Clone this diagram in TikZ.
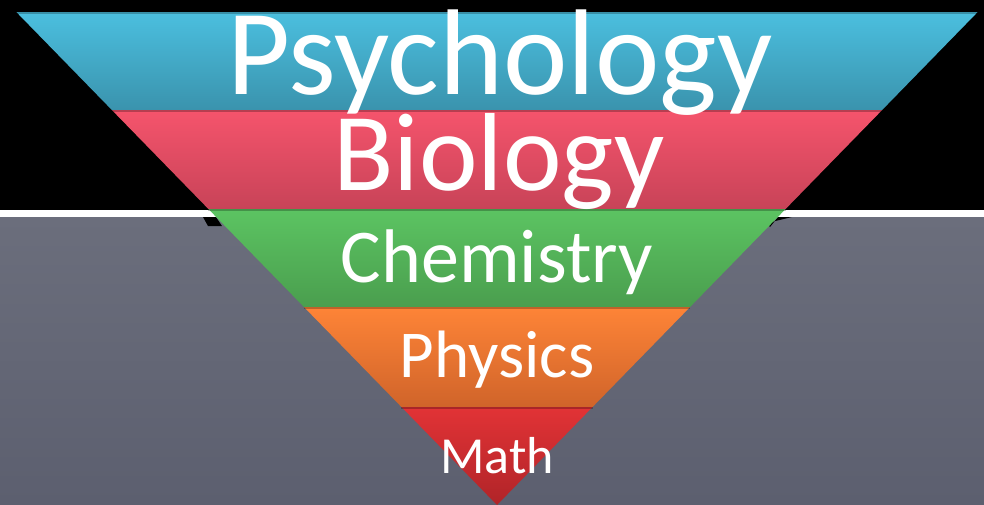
\documentclass[tikz,border=0pt]{standalone}
\usepackage{fontspec}
\setmainfont{Carlito}
\usepackage{tikz}
\usetikzlibrary{calc}

\definecolor{psyTop}{HTML}{4BBFDF}
\definecolor{psyBot}{HTML}{3A93AD}
\definecolor{bioTop}{HTML}{F5546C}
\definecolor{bioBot}{HTML}{C84358}
\definecolor{chemTop}{HTML}{5CC462}
\definecolor{chemBot}{HTML}{4A9E4E}
\definecolor{physTop}{HTML}{FE8437}
\definecolor{physBot}{HTML}{D0642A}
\definecolor{mathTop}{HTML}{E23336}
\definecolor{mathBot}{HTML}{B02428}
\definecolor{bgTop}{HTML}{6B6E7C}
\definecolor{bgBot}{HTML}{5C5F6F}

\tikzset{
  layerlabel/.style={text=white, anchor=base, inner sep=0pt},
  edgeshade/.style={black, opacity=0.25, line width=1.5pt}
}

% half width of the pyramid at height y (apex at 505)
\newcommand{\hw}[1]{(505-#1)*0.975}

\begin{document}
\begin{tikzpicture}[x=1pt, y=-1pt]
  \useasboundingbox (0,0) rectangle (984,504);

  %% Backdrop
  \fill[black] (0,0) rectangle (984,210);
  \shade[top color=bgTop, bottom color=bgBot] (0,217) rectangle (984,504);
  \fill[white] (0,210) rectangle (984,217);
  % shadow bits under the white line
  \fill[black] (203,217) -- (216,217) -- (222,226) -- (208,226) -- cycle;
  \fill[black] (792,217) -- (778,217) -- (770,227) -- (767,223) -- cycle;

  %% Layers (top to bottom)
  \shade[top color=psyTop, bottom color=psyBot]
    ({497-\hw{12}},12) -- ({497+\hw{12}},12) -- ({497+\hw{110}},110) -- ({497-\hw{110}},110) -- cycle;
  \shade[top color=bioTop, bottom color=bioBot]
    ({497-\hw{110}},110) -- ({497+\hw{110}},110) -- ({497+\hw{209}},209) -- ({497-\hw{209}},209) -- cycle;
  \shade[top color=chemTop, bottom color=chemBot]
    ({497-\hw{209}},209) -- ({497+\hw{209}},209) -- ({497+\hw{307}},307) -- ({497-\hw{307}},307) -- cycle;
  \shade[top color=physTop, bottom color=physBot]
    ({497-\hw{307}},307) -- ({497+\hw{307}},307) -- ({497+\hw{407}},407) -- ({497-\hw{407}},407) -- cycle;
  \shade[top color=mathTop, bottom color=mathBot]
    ({497-\hw{407}},407) -- ({497+\hw{407}},407) -- (497,505) -- cycle;

  %% Thin shadow on each layer's upper edge
  \foreach \yy in {12,110,209,307,407}
    \draw[edgeshade] ({497-\hw{\yy}},\yy+0.75) -- ({497+\hw{\yy}},\yy+0.75);

  %% Labels
  \node[layerlabel, font=\fontsize{122}{122}\selectfont] (psych) at (500,94) {Psychology};
  \node[layerlabel, font=\fontsize{111}{111}\selectfont] (bio) at (499,190) {Biology};
  \node[layerlabel, font=\fontsize{76}{76}\selectfont] (chem) at (497,282) {Chemistry};
  \node[layerlabel, font=\fontsize{67}{67}\selectfont] (phys) at (497,377) {Physics};
  \node[layerlabel, font=\fontsize{52}{52}\selectfont] (math) at (497,473) {Math};
\end{tikzpicture}
\end{document}
